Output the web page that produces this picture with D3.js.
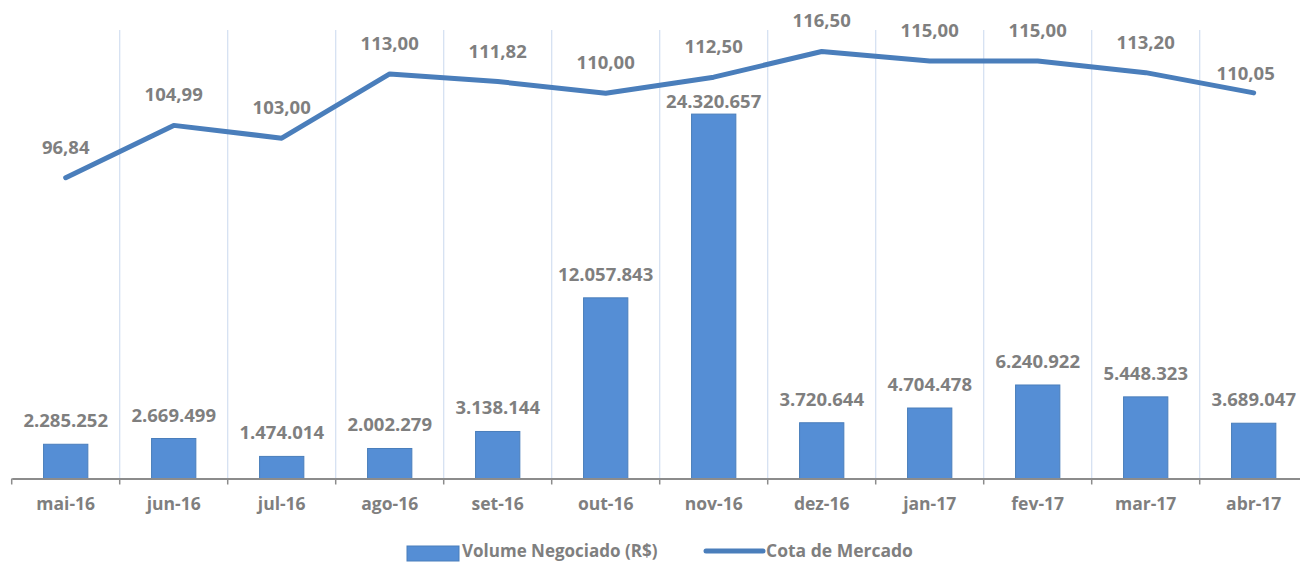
<!DOCTYPE html>
<meta charset="utf-8">
<script src="https://d3js.org/d3.v7.min.js"></script>
<style>
  body { margin: 0; background: #fff; }
  text { font-family: "Open Sans", sans-serif; font-weight: bold; fill: #7f7f7f; }
</style>
<div id="my_dataviz"></div>
<script>

// data
var months = ["mai-16", "jun-16", "jul-16", "ago-16", "set-16", "out-16",
              "nov-16", "dez-16", "jan-17", "fev-17", "mar-17", "abr-17"];
var volume = [2285252, 2669499, 1474014, 2002279, 3138144, 12057843,
              24320657, 3720644, 4704478, 6240922, 5448323, 3689047];
var cota = [96.84, 104.99, 103.00, 113.00, 111.82, 110.00,
            112.50, 116.50, 115.00, 115.00, 113.20, 110.05];

var width = 1300, height = 563;
var plotLeft = 11.7, plotRight = 1307.7, plotTop = 29, plotBottom = 478.5;

var svg = d3.select("#my_dataviz")
  .append("svg")
    .attr("width", width)
    .attr("height", height);

// band per month, no padding so band edges are the gridlines
var x = d3.scaleBand()
  .domain(months)
  .range([plotLeft, plotRight])
  .padding(0);
var step = x.step();
var barW = step * 0.41;

// bars: left axis 0 - 30M, line: right axis 50 - 120
var y = d3.scaleLinear().domain([0, 30000000]).range([plotBottom, plotTop]);
var y2 = d3.scaleLinear().domain([50, 120]).range([plotBottom, plotTop]);

var fmtInt = function(v) { return d3.format(",")(v).replace(/,/g, "."); };
var fmtDec = function(v) { return d3.format(".2f")(v).replace(".", ","); };

// vertical gridlines between months
svg.append("g")
  .selectAll("line")
  .data(months.slice(1))
  .enter()
  .append("line")
    .attr("x1", function(d) { return x(d); })
    .attr("x2", function(d) { return x(d); })
    .attr("y1", plotTop + 1)
    .attr("y2", plotBottom)
    .attr("stroke", "#d6e1f2")
    .attr("stroke-width", 1.3);

// bars
svg.append("g")
  .selectAll("rect")
  .data(volume)
  .enter()
  .append("rect")
    .attr("x", function(d, i) { return x(months[i]) + (step - barW) / 2; })
    .attr("y", function(d) { return y(d); })
    .attr("width", barW)
    .attr("height", function(d) { return plotBottom - y(d); })
    .attr("fill", "#558ed5")
    .attr("stroke", "#4a7ebb")
    .attr("stroke-width", 1);

// x axis: line, boundary ticks, labels under the band centres
var xAxis = svg.append("g")
  .attr("transform", "translate(0," + plotBottom + ")")
  .call(d3.axisBottom(x).tickSize(0).tickPadding(19));
xAxis.select(".domain").attr("stroke", "#8c8c8c").attr("stroke-width", 1.8);
xAxis.selectAll(".tick text")
  .attr("font-size", "17.5px")
  .attr("font-family", null)
  .attr("fill", null);

xAxis.selectAll(".edge")
  .data(months.map(function(d) { return x(d); }).concat([plotRight]))
  .enter()
  .append("line")
    .attr("class", "edge")
    .attr("x1", function(d) { return d; })
    .attr("x2", function(d) { return d; })
    .attr("y1", 0)
    .attr("y2", 6)
    .attr("stroke", "#8c8c8c")
    .attr("stroke-width", 1.5);

// line
var line = d3.line()
  .x(function(d, i) { return x(months[i]) + step / 2; })
  .y(function(d) { return y2(d); });

svg.append("path")
  .datum(cota)
  .attr("d", line)
  .attr("fill", "none")
  .attr("stroke", "#4a7ebb")
  .attr("stroke-width", 5)
  .attr("stroke-linecap", "round")
  .attr("stroke-linejoin", "round");

// bar value labels (the tallest one sits closer so it clears the line)
svg.append("g")
  .selectAll("text")
  .data(volume)
  .enter()
  .append("text")
    .attr("x", function(d, i) { return x(months[i]) + step / 2; })
    .attr("y", function(d) { return y(d) - (d > 20000000 ? 6 : 17); })
    .attr("text-anchor", "middle")
    .attr("font-size", "18.5px")
    .text(function(d) { return fmtInt(d); });

// line value labels (the last one is nudged left/down as in the original)
var last = cota.length - 1;
svg.append("g")
  .selectAll("text")
  .data(cota)
  .enter()
  .append("text")
    .attr("x", function(d, i) { return x(months[i]) + step / 2 - (i === last ? 8 : 0); })
    .attr("y", function(d, i) { return y2(d) - (i === last ? 13 : 24); })
    .attr("text-anchor", "middle")
    .attr("font-size", "18.5px")
    .text(function(d) { return fmtDec(d); });

// legend
var legend = svg.append("g");
legend.append("rect")
  .attr("x", 407).attr("y", 546)
  .attr("width", 52).attr("height", 15)
  .attr("fill", "#558ed5")
  .attr("stroke", "#4a7ebb");
legend.append("text")
  .attr("x", 462).attr("y", 557)
  .attr("font-size", "17px")
  .text("Volume Negociado (R$)");
legend.append("line")
  .attr("x1", 706).attr("x2", 763)
  .attr("y1", 551).attr("y2", 551)
  .attr("stroke", "#4a7ebb")
  .attr("stroke-width", 5)
  .attr("stroke-linecap", "round");
legend.append("text")
  .attr("x", 766).attr("y", 557)
  .attr("font-size", "17.5px")
  .text("Cota de Mercado");

</script>
